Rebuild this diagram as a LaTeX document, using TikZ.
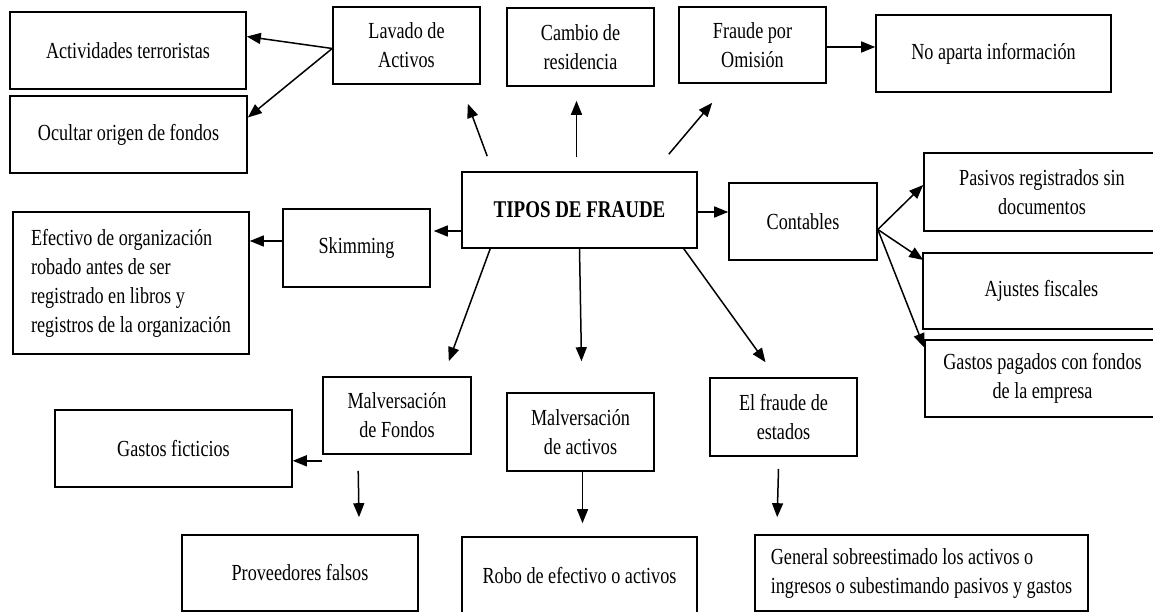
\documentclass[tikz,border=0pt]{standalone}
\usepackage{fontspec}
\setmainfont{Liberation Serif}[FakeStretch=0.79]
\usetikzlibrary{arrows.meta,calc}
\tikzset{
  box/.style={draw, line width=1.6pt, inner sep=0pt, align=center,
    font=\fontsize{23}{29}\selectfont},
  arr/.style={line width=1.5pt, -{Triangle[length=14pt,width=11pt]}},
}
\newcommand\mkbox[7][]{%
  \node[box,#1,minimum width={(#5)-(#3)},minimum height={(#6)-(#4)}]
    (#2) at ({((#3)+(#5))/2},{((#4)+(#6))/2}) {#7};}
\begin{document}
\begin{tikzpicture}[x=1pt,y=-1pt]
\useasboundingbox (0,0) rectangle (1153,612);
\fill[white] (0,0) rectangle (1153,612);
\clip (0,0) rectangle (1153,612);
% boxes
\mkbox{act}{10}{12}{246}{89}{Actividades terroristas}
\mkbox{ocu}{10}{96}{247}{173}{Ocultar origen de fondos}
\mkbox{lav}{333}{7}{480}{84}{Lavado de\\Activos}
\mkbox{cam}{507}{8}{654}{86}{Cambio de\\residencia}
\mkbox{fpo}{679}{7}{826}{83}{Fraude por\\Omisión}
\mkbox{nap}{876}{15}{1111}{92}{No aparta información}
\mkbox[font=\fontsize{24}{29}\selectfont\bfseries]{tip}{462}{172}{697}{248}{TIPOS DE FRAUDE}
\mkbox{con}{729}{183}{877}{260}{Contables}
\mkbox{ski}{283}{209}{430}{287}{Skimming}
\mkbox[align=left]{efe}{13}{212}{249}{354}{Efectivo de organización\\robado antes de ser\\registrado en libros y\\registros de la organización}
\mkbox{pas}{924}{153}{1160}{231}{Pasivos registrados sin\\documentos}
\mkbox{aju}{923}{253}{1160}{329}{Ajustes fiscales}
\mkbox{gas}{925}{340}{1160}{417}{Gastos pagados con fondos\\de la empresa}
\mkbox{mf}{323}{377}{471}{454}{Malversación\\de Fondos}
\mkbox{gf}{55}{410}{292}{487}{Gastos ficticios}
\mkbox{pro}{182}{535}{418}{611}{Proveedores falsos}
\mkbox{ma}{507}{393}{654}{471}{Malversación\\de activos}
\mkbox{rob}{462}{537}{697}{614}{Robo de efectivo o activos}
\mkbox{efs}{710}{378}{857}{456}{El fraude de\\estados}
\mkbox[align=left]{gen}{755}{535}{1088}{611}{General sobreestimado los activos o\\ingresos o subestimando pasivos y gastos}
% connectors
\draw[arr] ($(lav.west)+(0,3)$) -- ($(act.east)+(0,-14)$);
\draw[arr] ($(lav.west)+(0,3)$) -- ($(ocu.east)+(0,-17)$);
\draw[arr] ($(tip.north west)+(26,-15)$) -- ($(lav.south east)+(-13,19)$);
\draw[arr] ($(tip.north)+(-3,-14)$) -- ($(cam.south)+(-4,14)$);
\draw[arr] ($(tip.north east)+(-29,-17)$) -- ($(fpo.south west)+(34,19)$);
\draw[arr] ($(fpo.east)+(0,2)$) -- ($(fpo.east -| nap.west)+(0,2)$);
\draw[arr] ($(tip.east)+(0,2)$) -- ($(tip.east -| con.west)+(0,2)$);
\draw[arr] ($(tip.west)+(0,21)$) -- ($(tip.west -| ski.east)+(3,21)$);
\draw[arr] ($(ski.west)+(0,-7)$) -- ($(ski.west -| efe.east)+(0,-7)$);
\draw[arr] ($(con.east)+(0,8)$) -- ($(pas.west)+(0,-7)$);
\draw[arr] ($(con.east)+(0,8)$) -- ($(aju.west)+(1,-31)$);
\draw[arr] ($(con.east)+(0,8)$) -- ($(gas.west)+(0,-31)$);
\draw[arr] ($(tip.south west)+(29,0)$) -- ($(mf.north east)+(-23,-15)$);
\draw[arr] (tip.south) -- ($(ma.north)+(1,-31)$);
\draw[arr] ($(tip.south east)+(-14,0)$) -- ($(efs.north)+(-18,-15)$);
\draw[arr] ($(mf.south west)+(0,6)$) -- ($(mf.south west -| gf.east)+(0,6)$);
\draw[arr] ($(mf.south west)+(36,16)$) -- ($(pro.north)+(59,-17)$);
\draw[arr] ($(ma.south)+(2,0)$) -- ($(rob.north)+(3,-13)$);
\draw[arr] ($(efs.south)+(-5,12)$) -- ($(gen.north west)+(23,-17)$);
\end{tikzpicture}
\end{document}
